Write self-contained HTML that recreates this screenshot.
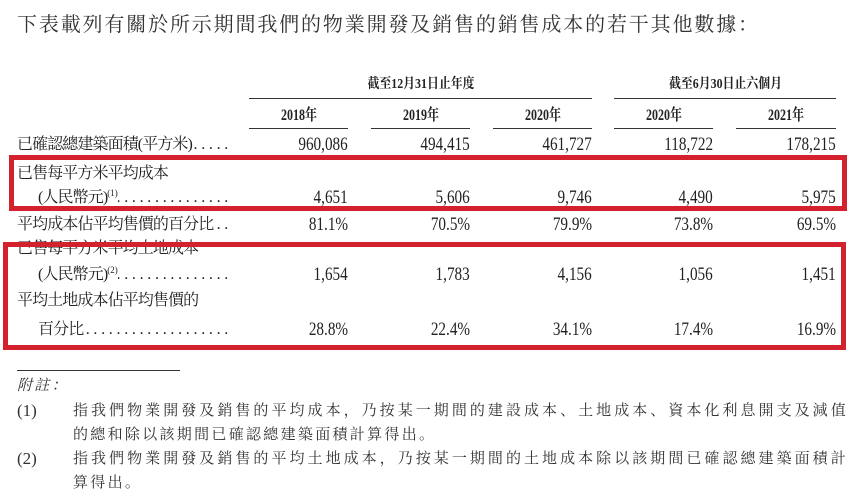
<!DOCTYPE html>
<html><head><meta charset="utf-8">
<style>
*{margin:0;padding:0;box-sizing:border-box}
html,body{width:857px;height:504px;background:#fff;overflow:hidden}
body{position:relative;color:#222;font-family:"Liberation Serif","Noto Serif CJK SC",serif}
.title{position:absolute;left:17px;top:15px;font-size:20px;line-height:20px;letter-spacing:1.85px;color:#333;white-space:nowrap}
.gh{position:absolute;top:78px;font-size:14px;line-height:14px;font-weight:bold;text-align:center;white-space:nowrap}
.gh span{display:inline-block;transform:scaleX(0.85)}
.yh{position:absolute;top:108px;width:100px;font-size:16px;line-height:16px;font-weight:bold;text-align:center;white-space:nowrap}
.yh span{display:inline-block;transform:scaleX(0.75)}
.hl{position:absolute;height:1px;background:#333}
.row{position:absolute;left:0;width:857px;height:20px;font-size:16px;line-height:20px}
.lab{position:absolute;top:0;right:625px;display:flex;white-space:nowrap;letter-spacing:-0.9px}
.lab .t{flex:none}
.lead{flex:1;overflow:hidden;direction:rtl;white-space:nowrap;letter-spacing:3.7px;font-family:"Liberation Serif",serif}
.lab sup{font-size:9px;letter-spacing:0;vertical-align:6px;line-height:0}
.n{position:absolute;top:0;font-size:19px;line-height:20px;transform:scaleX(0.8);transform-origin:right center;display:inline-block;white-space:nowrap}
.c1{right:509px}.c2{right:387px}.c3{right:265px}.c4{right:144px}.c5{right:21px}
.box{position:absolute;border:5px solid #d3222d}
.fn{position:absolute;font-size:15px;line-height:24px;color:#333;white-space:nowrap;letter-spacing:2.3px}
.fj{width:775px;text-align:justify;text-align-last:justify}
.fl{position:absolute;font-size:17px;line-height:24px;color:#333}
</style></head>
<body>
<div class="title">下表載列有關於所示期間我們的物業開發及銷售的銷售成本的若干其他數據：</div>

<div class="gh" style="left:249px;width:343px"><span>截至12月31日止年度</span></div>
<div class="gh" style="left:614px;width:222px"><span>截至6月30日止六個月</span></div>
<div class="hl" style="left:249px;top:98px;width:343px"></div>
<div class="hl" style="left:614px;top:98px;width:222px"></div>

<div class="yh" style="left:249px"><span>2018年</span></div>
<div class="yh" style="left:371px"><span>2019年</span></div>
<div class="yh" style="left:493px"><span>2020年</span></div>
<div class="yh" style="left:614px"><span>2020年</span></div>
<div class="yh" style="left:736px"><span>2021年</span></div>
<div class="hl" style="left:249px;top:128px;width:99px"></div>
<div class="hl" style="left:371px;top:128px;width:99px"></div>
<div class="hl" style="left:493px;top:128px;width:99px"></div>
<div class="hl" style="left:614px;top:128px;width:99px"></div>
<div class="hl" style="left:736px;top:128px;width:100px"></div>

<div class="row" style="top:135px">
  <div class="lab" style="left:17px"><span class="t">已確認總建築面積(平方米)</span><span class="lead">..........................</span></div>
  <span class="n c1">960,086</span><span class="n c2">494,415</span><span class="n c3">461,727</span><span class="n c4">118,722</span><span class="n c5">178,215</span>
</div>
<div class="row" style="top:164px">
  <div class="lab" style="left:17px"><span class="t">已售每平方米平均成本</span></div>
</div>
<div class="row" style="top:188px">
  <div class="lab" style="left:38px"><span class="t">(人民幣元)<sup>(1)</sup></span><span class="lead">..........................</span></div>
  <span class="n c1">4,651</span><span class="n c2">5,606</span><span class="n c3">9,746</span><span class="n c4">4,490</span><span class="n c5">5,975</span>
</div>
<div class="row" style="top:215px">
  <div class="lab" style="left:17px"><span class="t">平均成本佔平均售價的百分比</span><span class="lead">..........................</span></div>
  <span class="n c1">81.1%</span><span class="n c2">70.5%</span><span class="n c3">79.9%</span><span class="n c4">73.8%</span><span class="n c5">69.5%</span>
</div>
<div class="row" style="top:239px">
  <div class="lab" style="left:17px"><span class="t">已售每平方米平均土地成本</span></div>
</div>
<div class="row" style="top:265px">
  <div class="lab" style="left:38px"><span class="t">(人民幣元)<sup>(2)</sup></span><span class="lead">..........................</span></div>
  <span class="n c1">1,654</span><span class="n c2">1,783</span><span class="n c3">4,156</span><span class="n c4">1,056</span><span class="n c5">1,451</span>
</div>
<div class="row" style="top:291px">
  <div class="lab" style="left:17px"><span class="t">平均土地成本佔平均售價的</span></div>
</div>
<div class="row" style="top:320px">
  <div class="lab" style="left:38px"><span class="t">百分比</span><span class="lead">..........................</span></div>
  <span class="n c1">28.8%</span><span class="n c2">22.4%</span><span class="n c3">34.1%</span><span class="n c4">17.4%</span><span class="n c5">16.9%</span>
</div>

<div class="box" style="left:9px;top:155px;width:838px;height:56px"></div>
<div class="box" style="left:3px;top:242px;width:843px;height:108px"></div>

<div class="hl" style="left:17px;top:370px;width:163px"></div>
<div class="fn" style="left:17px;top:374px;font-style:italic">附註：</div>
<div class="fl" style="left:17px;top:399px">(1)</div>
<div class="fn fj" style="left:73px;top:399px">指我們物業開發及銷售的平均成本，乃按某一期間的建設成本、土地成本、資本化利息開支及減值</div>
<div class="fn" style="left:73px;top:423px">的總和除以該期間已確認總建築面積計算得出。</div>
<div class="fl" style="left:17px;top:447px">(2)</div>
<div class="fn fj" style="left:73px;top:447px">指我們物業開發及銷售的平均土地成本，乃按某一期間的土地成本除以該期間已確認總建築面積計</div>
<div class="fn" style="left:73px;top:471px">算得出。</div>
</body></html>
